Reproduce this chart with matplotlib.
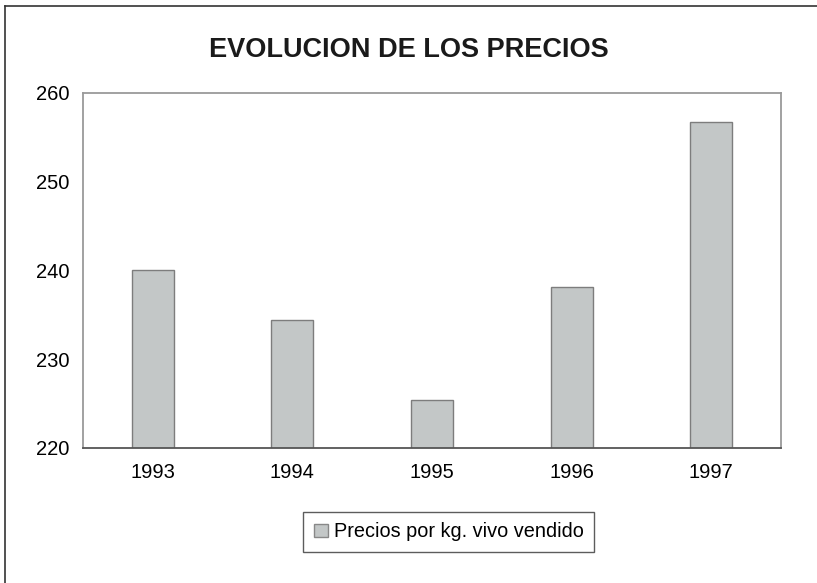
import matplotlib.pyplot as plt
from matplotlib.lines import Line2D
from matplotlib.patches import Patch

years = ['1993', '1994', '1995', '1996', '1997']
precios = [240.0, 234.4, 225.4, 238.1, 256.7]
yticks = [220, 230, 240, 250, 260]

plt.rcParams['font.family'] = ['Liberation Sans', 'DejaVu Sans']

fig = plt.figure(figsize=(8.17, 5.83), dpi=100)
ax = fig.add_axes([0.1016, 0.2316, 0.8544, 0.6089])

x = range(len(years))
ax.bar(x, precios, width=0.3, color='#c3c7c7', edgecolor='#7d7d7d', linewidth=1.0)
ax.set_xlim(-0.5, len(years) - 0.5)
ax.set_ylim(220, 260)
ax.set_yticks(yticks)
ax.set_xticks(list(x))
ax.set_xticklabels(years)
ax.tick_params(axis='y', length=0, pad=10, labelsize=14.5)
ax.tick_params(axis='x', length=0, pad=11, labelsize=14.5)
for s in ['left', 'top', 'right']:
    ax.spines[s].set_color('#9a9a9a')
    ax.spines[s].set_linewidth(1.3)
ax.spines['bottom'].set_color('#555555')
ax.spines['bottom'].set_linewidth(1.3)

fig.text(0.5, 0.915, 'EVOLUCION DE LOS PRECIOS', ha='center', va='center',
         fontsize=19.5, fontweight='bold', color='#1a1a1a')

handle = Patch(facecolor='#c3c7c7', edgecolor='#888888')
leg = fig.legend([handle], ['Precios por kg. vivo vendido'], loc='center',
                 bbox_to_anchor=(0.549, 0.0875), fontsize=14.3, fancybox=False,
                 handlelength=0.7, handleheight=0.7, handletextpad=0.3,
                 borderpad=0.55, borderaxespad=0)
leg.get_frame().set_edgecolor('#333333')
leg.get_frame().set_linewidth(1.0)

# outer frame of the scanned page: top and left edges only
fig.add_artist(Line2D([5 / 817, 1.0], [1 - 6 / 583, 1 - 6 / 583], color='#333333', lw=1.2))
fig.add_artist(Line2D([5 / 817, 5 / 817], [0.0, 1 - 6 / 583], color='#333333', lw=1.2))

fig.savefig('out.png', dpi=100)
